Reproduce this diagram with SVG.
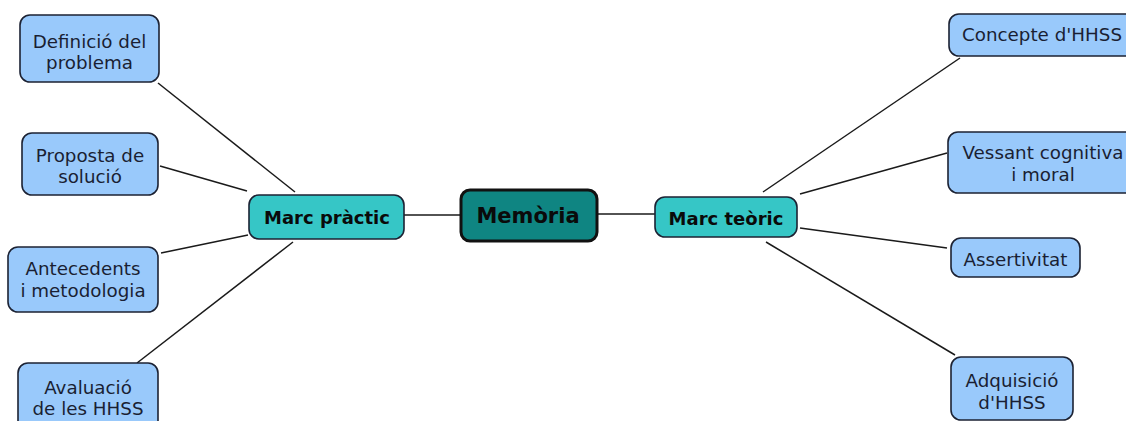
<svg xmlns="http://www.w3.org/2000/svg" width="1126" height="421" viewBox="0 0 1126 421">
<style>
.leaf rect{fill:#99c9fb;stroke:#1c2233;stroke-width:1.6}
.mid rect{fill:#36c6c6;stroke:#1c2233;stroke-width:1.6}
.root rect{fill:#0f8582;stroke:#111;stroke-width:3}
.leaf text{font-family:"DejaVu Sans",Verdana,sans-serif;font-size:18.3px;fill:#1a1f33;text-anchor:middle;dominant-baseline:central}
.mid text{font-family:"DejaVu Sans",Verdana,sans-serif;font-size:18px;font-weight:bold;fill:#0a0a0a;text-anchor:middle;dominant-baseline:central}
.root text{font-family:"DejaVu Sans",Verdana,sans-serif;font-size:21px;font-weight:bold;fill:#0a0a0a;text-anchor:middle;dominant-baseline:central}
#connectors line{stroke:#1a1a1a;stroke-width:1.5}
</style>
<rect width="1126" height="421" fill="#fff"/>
<g id="connectors">
<line x1="158" y1="83" x2="295" y2="192"/>
<line x1="160" y1="166" x2="247" y2="191"/>
<line x1="161" y1="253" x2="248" y2="235"/>
<line x1="137" y1="363" x2="293" y2="242"/>
<line x1="404" y1="215" x2="461" y2="215"/>
<line x1="597" y1="214" x2="655" y2="214"/>
<line x1="763" y1="192" x2="960" y2="58"/>
<line x1="800" y1="194" x2="947" y2="153"/>
<line x1="800" y1="228" x2="947" y2="248"/>
<line x1="766" y1="242" x2="955" y2="355"/>
</g>
<g id="root" class="root"><rect x="461" y="190" width="136" height="51" rx="9"/><text x="528" y="216">Memòria</text></g>
<g id="marc-practic" class="mid"><rect x="249" y="195" width="155" height="44" rx="10"/><text x="327" y="217">Marc pràctic</text></g>
<g id="marc-teoric" class="mid"><rect x="655" y="197" width="142" height="40" rx="10"/><text x="726" y="218">Marc teòric</text></g>
<g id="definicio" class="leaf"><rect x="20" y="15" width="139" height="67" rx="10"/><text x="89.5" y="41">Definició del</text><text x="89.5" y="62">problema</text></g>
<g id="proposta" class="leaf"><rect x="22" y="133" width="136" height="62" rx="10"/><text x="90" y="155">Proposta de</text><text x="90" y="176">solució</text></g>
<g id="antecedents" class="leaf"><rect x="8" y="247" width="150" height="65" rx="10"/><text x="83" y="268">Antecedents</text><text x="83" y="290">i metodologia</text></g>
<g id="avaluacio" class="leaf"><rect x="18" y="363" width="140" height="75" rx="10"/><text x="88" y="387">Avaluació</text><text x="88" y="408">de les HHSS</text></g>
<g id="concepte" class="leaf"><rect x="949" y="14" width="200" height="42" rx="10"/><text x="1042" y="34">Concepte d'HHSS</text></g>
<g id="vessant" class="leaf"><rect x="948" y="132" width="190" height="61" rx="10"/><text x="1043" y="152">Vessant cognitiva</text><text x="1043" y="174">i moral</text></g>
<g id="assertivitat" class="leaf"><rect x="951" y="238" width="129" height="39" rx="10"/><text x="1015.5" y="259">Assertivitat</text></g>
<g id="adquisicio" class="leaf"><rect x="951" y="357" width="122" height="63" rx="10"/><text x="1012" y="380">Adquisició</text><text x="1012" y="402">d'HHSS</text></g>
</svg>
